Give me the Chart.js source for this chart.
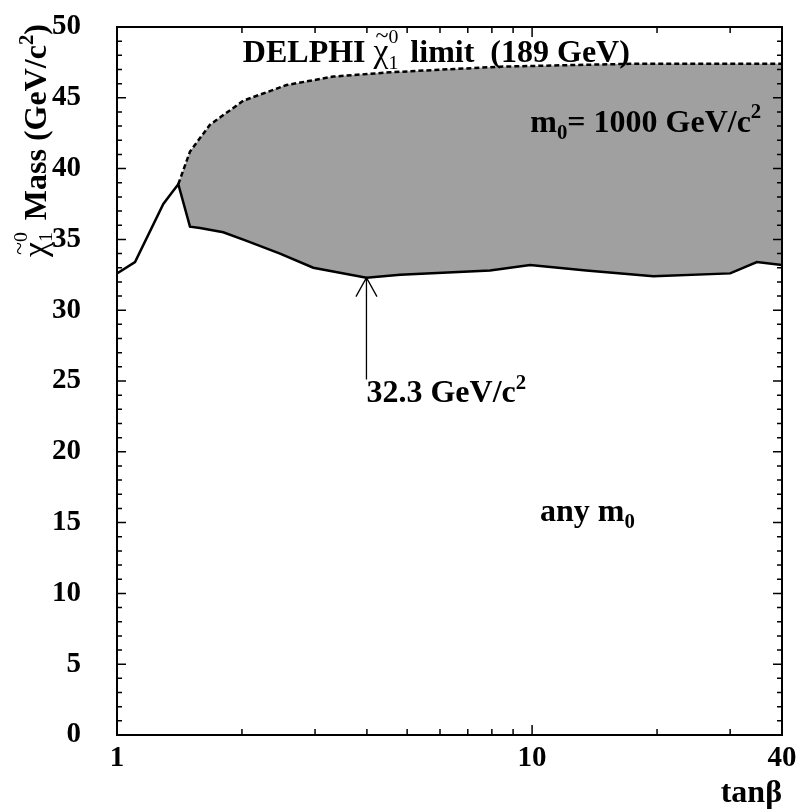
<!DOCTYPE html>
<html lang="en">
<head>
<meta charset="UTF-8">
<title>DELPHI neutralino mass limit</title>
<script src="https://cdn.jsdelivr.net/npm/chart.js@4.4.0/dist/chart.umd.min.js"></script>
<style>
  html, body { margin: 0; padding: 0; background: #fff; }
  #wrap { width: 806px; height: 810px; }
</style>
</head>
<body>
<div id="wrap"><canvas id="limitChart" width="806" height="810"></canvas></div>
<script>
// lower edge of the excluded region (valid for any m0) - solid line
const tanBetaLow = [1, 1.105, 1.293, 1.355, 1.405, 1.499, 1.585, 1.803, 2.053, 2.47, 2.97, 3.99, 4.81, 7.92, 9.89, 13.5, 19.6, 30.0, 34.8, 40];
const massLow    = [32.6, 33.4, 37.5, 38.3, 38.9, 35.9, 35.8, 35.5, 34.9, 34.0, 33.0, 32.3, 32.5, 32.8, 33.2, 32.8, 32.4, 32.6, 33.4, 33.2];

// upper edge for m0 = 1000 GeV/c2 - dashed line
const tanBetaHigh = [1.405, 1.499, 1.675, 2.016, 2.56, 3.32, 4.55, 8.37, 17.2, 40];
const massHigh    = [38.9, 41.2, 43.1, 44.8, 45.9, 46.5, 46.8, 47.2, 47.4, 47.4];

// axes
const xTickLabels = [1, 10, 40];
const xSmallTicks = [2, 3, 4, 5, 6, 7, 8, 9, 20, 30];
const xBigTicks = [10];
const yMin = 0, yMax = 50, yStep = 5;

const FONT = '"Liberation Serif", "Times New Roman", serif';
const TXT = 32;

const toPts = (xs, ys) => xs.map((x, i) => ({ x: x, y: ys[i] }));
const lowPts = toPts(tanBetaLow, massLow);
const highPts = toPts(tanBetaHigh, massHigh);
// closed outline of the shaded region: along the dashed edge, back along the solid one
const bandPts = highPts.concat(lowPts.filter(p => p.x >= tanBetaHigh[0]).reverse());

// minimum of the lower edge, pointed at by the arrow
let minIdx = 0;
massLow.forEach((m, i) => { if (m < massLow[minIdx]) minIdx = i; });

// draws a row of text pieces (sub/superscripts, chi with tilde), returns end x
function drawRich(ctx, x, y, parts, size) {
    parts.forEach(p => {
        if (p.chi) {
            ctx.font = `normal ${size * 1.05}px ${FONT}`;
            ctx.fillText('χ', x, y);
            const w = ctx.measureText('χ').width;
            ctx.font = `normal ${size * 0.75}px ${FONT}`;
            const tw = ctx.measureText('~').width;
            ctx.fillText('~', x + (w - tw) / 2 + 1, y - size * 0.6);
            ctx.font = `normal ${size * 0.62}px ${FONT}`;
            ctx.fillText('0', x + w, y - size * 0.6);
            ctx.fillText('1', x + w, y + size * 0.2);
            x += w + ctx.measureText('0').width + 4;
            return;
        }
        const s = size * (p.scale || 1);
        ctx.font = `bold ${s}px ${FONT}`;
        ctx.fillText(p.t, x, y + (p.dy || 0) * size);
        x += ctx.measureText(p.t).width;
    });
    return x;
}

const labels = [
    { x: 2.01, y: 47.5, parts: [{ t: 'DELPHI ' }, { chi: true }, { t: ' limit  (189 GeV)' }] },
    { x: 9.9, y: 42.6, parts: [{ t: 'm' }, { t: '0', scale: 0.65, dy: 0.22 }, { t: '= 1000 GeV/c' }, { t: '2', scale: 0.65, dy: -0.42 }] },
    { x: 10.45, y: 15.1, parts: [{ t: 'any m' }, { t: '0', scale: 0.65, dy: 0.22 }] },
    { x: tanBetaLow[minIdx], y: 23.5, parts: [{ t: massLow[minIdx].toFixed(1) + ' GeV/c' }, { t: '2', scale: 0.65, dy: -0.42 }] }
];

const framePlugin = {
    id: 'framePlugin',
    afterDatasetsDraw(chart) {
        const { ctx, chartArea: a, scales: { x, y } } = chart;
        ctx.save();
        ctx.strokeStyle = '#000';
        ctx.fillStyle = '#000';
        ctx.lineWidth = 2;
        ctx.strokeRect(a.left, a.top, a.right - a.left, a.bottom - a.top);

        // inward ticks on all four sides
        ctx.lineWidth = 1.5;
        ctx.beginPath();
        for (let v = yMin; v <= yMax; v++) {
            const py = y.getPixelForValue(v);
            const len = v % yStep === 0 ? 9 : 5;
            ctx.moveTo(a.left, py); ctx.lineTo(a.left + len, py);
            ctx.moveTo(a.right, py); ctx.lineTo(a.right - len, py);
        }
        xSmallTicks.concat(xBigTicks).forEach(v => {
            const px = x.getPixelForValue(v);
            const len = xBigTicks.includes(v) ? 10 : 6;
            ctx.moveTo(px, a.bottom); ctx.lineTo(px, a.bottom - len);
            ctx.moveTo(px, a.top); ctx.lineTo(px, a.top + len);
        });
        ctx.stroke();

        // arrow to the minimum
        const ax = x.getPixelForValue(tanBetaLow[minIdx]);
        const ay = y.getPixelForValue(massLow[minIdx]);
        const by = y.getPixelForValue(25.1);
        ctx.lineWidth = 1.3;
        ctx.beginPath();
        ctx.moveTo(ax, by); ctx.lineTo(ax, ay);
        ctx.moveTo(ax - 10.5, ay + 19); ctx.lineTo(ax, ay); ctx.lineTo(ax + 10.5, ay + 19);
        ctx.stroke();

        // texts in the plot
        ctx.textBaseline = 'alphabetic';
        ctx.textAlign = 'left';
        labels.forEach(l => {
            drawRich(ctx, x.getPixelForValue(l.x), y.getPixelForValue(l.y), l.parts, TXT);
        });

        // y axis title, rotated
        ctx.translate(46, 257);
        ctx.rotate(-Math.PI / 2);
        drawRich(ctx, 0, 0, [{ chi: true }, { t: ' Mass (GeV/c' }, { t: '2', scale: 0.65, dy: -0.42 }, { t: ')' }], TXT);
        ctx.restore();
    }
};

const ctx = document.getElementById('limitChart').getContext('2d');
new Chart(ctx, {
    type: 'line',
    data: {
        datasets: [
            {
                label: 'lower edge',
                data: lowPts,
                borderColor: '#000',
                borderWidth: 2.5,
                pointRadius: 0,
                fill: false,
                order: 1
            },
            {
                label: 'm0 = 1000',
                data: highPts,
                borderColor: '#000',
                borderWidth: 2.5,
                borderDash: [5, 3],
                pointRadius: 0,
                fill: false,
                order: 2
            },
            {
                label: 'excluded',
                data: bandPts,
                borderWidth: 0,
                borderColor: 'rgba(0,0,0,0)',
                backgroundColor: '#a0a0a0',
                pointRadius: 0,
                fill: 'shape',
                order: 3
            }
        ]
    },
    options: {
        responsive: false,
        animation: false,
        layout: { padding: { left: 0, right: 24, top: 27, bottom: 0 } },
        plugins: {
            legend: { display: false },
            tooltip: { enabled: false }
        },
        scales: {
            x: {
                type: 'logarithmic',
                min: 1,
                max: 40,
                grid: { display: false },
                border: { display: false },
                afterFit: s => { s.height = 75; },
                afterBuildTicks: s => { s.ticks = xTickLabels.map(v => ({ value: v })); },
                ticks: {
                    autoSkip: false,
                    maxRotation: 0,
                    padding: -2,
                    color: '#000',
                    font: { family: FONT, size: 29, weight: 'bold' },
                    callback: v => String(v)
                },
                title: {
                    display: true,
                    text: 'tanβ',
                    align: 'end',
                    color: '#000',
                    padding: { top: 0, bottom: 0 },
                    font: { family: FONT, size: TXT, weight: 'bold', lineHeight: 1.0 }
                }
            },
            y: {
                min: yMin,
                max: yMax,
                grid: { display: false },
                border: { display: false },
                afterFit: s => { s.width = 117; s.paddingTop = 0; s.paddingBottom = 0; },
                ticks: {
                    stepSize: yStep,
                    padding: 28,
                    color: '#000',
                    font: { family: FONT, size: 29, weight: 'bold' }
                }
            }
        }
    },
    plugins: [framePlugin]
});
</script>
</body>
</html>
